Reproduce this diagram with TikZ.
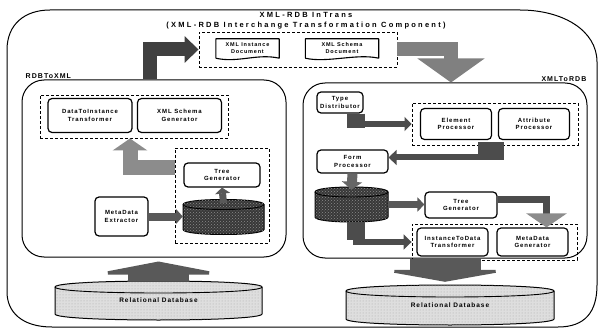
\documentclass[tikz,border=0pt]{standalone}
\usepackage{fontspec}
\setmainfont{Liberation Sans}
\newfontfamily\bxf[LetterSpace=15]{Liberation Sans}
\newfontfamily\ttlf[LetterSpace=30]{Liberation Sans}
\usetikzlibrary{arrows.meta,patterns,calc}

\newcommand\mycyl[8]{%
 \path[#7] ({#2-#4},{#3-#5+#6}) -- ({#2-#4},{#3+#5-#6}) .. controls ({#2-#4},{#3+#5+#6/3}) and ({#2+#4},{#3+#5+#6/3}) .. ({#2+#4},{#3+#5-#6}) -- ({#2+#4},{#3-#5+#6}) .. controls ({#2+#4},{#3-#5-#6/3}) and ({#2-#4},{#3-#5-#6/3}) .. cycle;
 \draw[line width=0.9pt] ({#2-#4},{#3-#5+#6}) .. controls ({#2-#4},{#3-#5+#6*7/3}) and ({#2+#4},{#3-#5+#6*7/3}) .. ({#2+#4},{#3-#5+#6});
 \node[inner sep=0pt, minimum width={2*#4}, minimum height={2*#5}, font=\bxf\bfseries\fontsize{6.5}{8}\selectfont] (#1) at (#2,#3) {#8};
}

\tikzset{
 rbox/.style={draw, line width=1.2pt, rounded corners=4pt, fill=white, inner sep=1pt, align=center, font=\bxf\bfseries\fontsize{6}{7.5}\selectfont},
 dbox/.style={draw, line width=0.9pt, dash pattern=on 3pt off 2pt, inner sep=0pt},
 panel/.style={draw, line width=1pt, rounded corners=22pt, inner sep=0pt},
 docnode/.style={inner sep=0pt, align=center, font=\bxf\bfseries\fontsize{5.5}{7}\selectfont},
 docline/.style={draw, line width=1.1pt, line join=round},
 lightdb/.style={draw, line width=1pt, fill=black!13, postaction={pattern=dots, pattern color=black!35}},
 darkdb/.style={draw, line width=1pt, fill=black!78, postaction={pattern=crosshatch dots, pattern color=black!45}},
 lbl/.style={inner sep=1pt, font=\bxf\bfseries\fontsize{7}{8}\selectfont},
 ttl/.style={inner sep=0pt, font=\ttlf\bfseries\fontsize{7.5}{9}\selectfont},
 ba/.style={line width=#1, line join=miter, line cap=butt},
}

\begin{document}
\begin{tikzpicture}[x=1pt,y=-1pt]
\useasboundingbox (0,0) rectangle (599,331);
\fill[white] (0,0) rectangle (599,331);

% outer frame
\draw[line width=1pt] (50,10) -- (520,10) .. controls (562,10) and (597,30) .. (597,62) -- (597,285) .. controls (597,312) and (585,327) .. (558,327) -- (52,327) .. controls (22,327) and (7,312) .. (7,292) -- (7,50) .. controls (7,24) and (25,10) .. (50,10) -- cycle;

% titles
\node[ttl] (t1) at (306,15) {XML-RDB InTrans};
\node[ttl] (t2) at (306,26) {(XML-RDB Interchange Transformation Component)};

% panels
\node[panel, minimum width=264, minimum height=177] (lpanel) at (154,168.5) {};
\node[panel, minimum width=284, minimum height=175] (rpanel) at (445,170.5) {};
\node[lbl, anchor=south west] (lpl) at ([xshift=3pt]lpanel.north west) {RDBToXML};
\node[lbl, anchor=south east] (rpl) at (rpanel.north east) {XMLToRDB};

% top dashed box with documents
\node[dbox, minimum width=198, minimum height=35] (tdash) at (298,49.5) {};
\node[docnode, minimum width=63, minimum height=19] (xid) at (247.5,48.5) {XML Instance\\Document};
\node[docnode, minimum width=73, minimum height=19] (xsd) at (342,48.5) {XML Schema\\Document};
\foreach \d in {xid,xsd}{
 \draw[docline] (\d.south west) -- (\d.north west) -- (\d.north east) -- (\d.south east) .. controls +(-22pt,5pt) and +(22pt,-5pt) .. (\d.south west);
}

% left panel content
\node[dbox, minimum width=188, minimum height=43] (ldash1) at (134,116.5) {};
\node[dbox, minimum width=94, minimum height=95] (ltreebox) at (222,195.5) {};
\node[rbox, minimum width=84, minimum height=34] (dti) at (90,115.5) {DataToInstance\\Transformer};
\node[rbox, minimum width=84, minimum height=34] (xsg) at (179.5,115.5) {XML Schema\\Generator};
\node[rbox, minimum width=76, minimum height=24] (ltg) at (222,175) {Tree\\Generator};
\node[rbox, minimum width=53, minimum height=39] (mde) at (121.5,216.5) {MetaData\\Extractor};
\mycyl{lcyl}{223.5}{217}{40.5}{17.5}{5}{darkdb}{}

% right panel content
\node[rbox, minimum width=46, minimum height=21] (tdist) at (340,102.5) {Type\\Distributor};
\node[dbox, minimum width=166, minimum height=42] (rdash1) at (495,124) {};
\node[rbox, minimum width=71, minimum height=31] (ep) at (456,124) {Element\\Processor};
\node[rbox, minimum width=71, minimum height=31] (ap) at (534,124) {Attribute\\Processor};
\node[rbox, minimum width=71, minimum height=23] (fp) at (352.5,161.5) {Form\\Processor};
\mycyl{rcyl}{351.5}{204.5}{36.5}{17.5}{5}{darkdb}{}
\node[rbox, minimum width=72, minimum height=26] (rtg) at (461,205) {Tree\\Generator};
\node[dbox, minimum width=165, minimum height=36] (rdash2) at (494.5,242) {};
\node[rbox, minimum width=71, minimum height=28] (itd) at (452.5,242) {InstanceToData\\Transformer};
\node[rbox, minimum width=71, minimum height=28] (mdg) at (532.5,242) {MetaData\\Generator};

% databases
\mycyl{ldb}{158.5}{300.5}{103.5}{19.5}{6}{lightdb}{Relational Database}
\mycyl{rdb}{450}{305}{104}{20}{6}{lightdb}{Relational Database}

% big arrows
\draw[ba=14pt, black!75, -{Triangle[length=14pt,width=26pt]}] ([xshift=-4pt]lpanel.north) |- (tdash.west);
\draw[ba=14pt, black!50, -{Triangle[length=24pt,width=66pt]}] (tdash.east) -| ([xshift=6pt]rpanel.north);
\draw[ba=15pt, black!45, -{Triangle[length=12pt,width=34pt]}] ([yshift=28pt]ltreebox.west) -| ([xshift=-4pt]ldash1.south);
\draw[ba=61pt, black!65, -{Triangle[length=13pt,width=135pt]}] (ldb.north) -- ([yshift=-4pt]ldb.north |- lpanel.south);
\draw[ba=71pt, black!65, -{Triangle[length=12pt,width=135pt]}] (rpanel.south) -- ([yshift=3pt]rpanel.south |- rdb.north);

% small arrows left
\draw[ba=7pt, black!65, -{Triangle[length=6pt,width=15pt]}] ([yshift=-4pt]lcyl.north) -- (ltg.south);
\draw[ba=8pt, black!65, -{Triangle[length=7pt,width=15pt]}] (mde.east) -- (mde.east -| lcyl.west);

% small arrows right
\draw[ba=18pt, black!70] ([xshift=16pt]tdist.south) -- ++(0,14);
\draw[ba=6pt, black!70, -{Triangle[length=7pt,width=14pt]}] ([xshift=16pt]tdist.south) |- (rdash1.west);
\draw[ba=26pt, black!70] ([xshift=-4pt,yshift=3pt]rdash1.south) -- ++(0,18);
\draw[ba=6pt, black!70, -{Triangle[length=8pt,width=15pt]}] ([xshift=-4pt]rdash1.south) |- ([yshift=4pt]fp.east);
\draw[ba=10pt, black!60, -{Triangle[length=8pt,width=20pt]}] (fp.south) -- ([yshift=-3pt]rcyl.north);
\draw[ba=7pt, black!65, -{Triangle[length=7pt,width=14pt]}] (rcyl.east) -- (rcyl.east -| rtg.west);
\draw[ba=7pt, black!70, -{Triangle[length=14pt,width=40pt,color=black!45]}] ([yshift=6pt]rtg.east) -| ([xshift=14pt]mdg.north);
\draw[ba=18pt, black!70] ([xshift=4.5pt]rcyl.south) -- ++(0,18);
\draw[ba=6pt, black!70, -{Triangle[length=8pt,width=15pt]}] ([xshift=4.5pt]rcyl.south) |- (rdash2.west);
\end{tikzpicture}
\end{document}
